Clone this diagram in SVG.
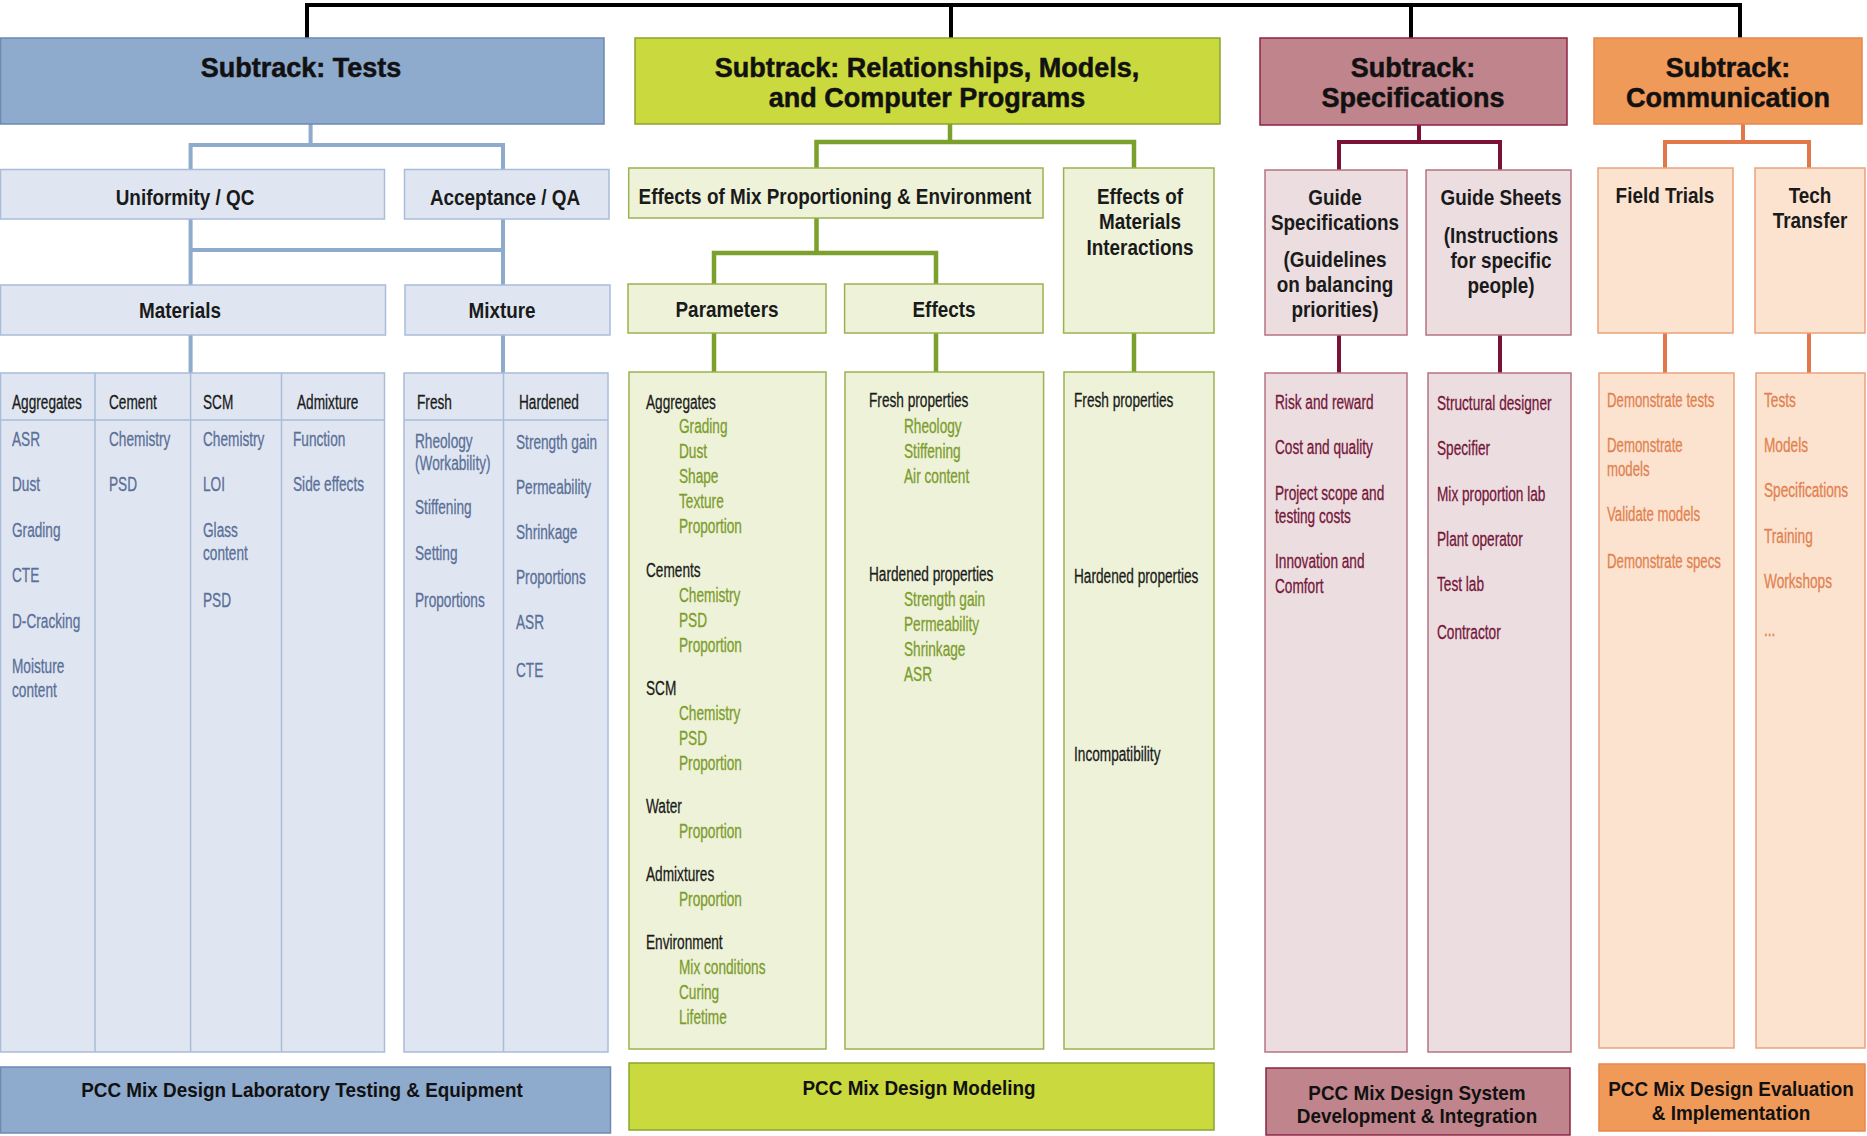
<svg xmlns="http://www.w3.org/2000/svg" width="1867" height="1136" viewBox="0 0 1867 1136">
<style>
text{font-family:"Liberation Sans",Arial,sans-serif}
.hd{font-weight:bold;font-size:27px;fill:#111;text-anchor:middle;stroke:#111;stroke-width:.5}
.lb{font-weight:bold;font-size:22px;fill:#1a1a1a;text-anchor:middle}
.bt{font-weight:bold;font-size:21px;fill:#111;text-anchor:middle}
.it{font-size:21px;stroke-width:.3}
.k{fill:#1a1a1a;stroke:#1a1a1a}.b{fill:#5b6f98;stroke:#5b6f98}.g{fill:#7d9c2d;stroke:#7d9c2d}.m{fill:#74163a;stroke:#74163a}.o{fill:#e2814f;stroke:#e2814f}
.bH{fill:#8eaacd;stroke:#6d89b3;stroke-width:1.5}
.bL{fill:#dfe6f1;stroke:#a9bcd9;stroke-width:1.5}
.gH{fill:#cad93e;stroke:#88a62e;stroke-width:1.5}
.gL{fill:#edf2d8;stroke:#9bb34f;stroke-width:1.5}
.mH{fill:#c0848c;stroke:#8d2343;stroke-width:1.5}
.mL{fill:#ecdde0;stroke:#b57482;stroke-width:1.5}
.oH{fill:#f09a5a;stroke:#e8874d;stroke-width:1.5}
.oL{fill:#fbe3d0;stroke:#eaa27d;stroke-width:1.5}
.cb{fill:none;stroke:#8eaacd;stroke-width:4}
.cg{fill:none;stroke:#7ba02b;stroke-width:4.5}
.cm{fill:none;stroke:#7b1236;stroke-width:4}
.co{fill:none;stroke:#e0784a;stroke-width:4}
.ck{fill:none;stroke:#000;stroke-width:4}
.dv{stroke:#a9bcd9;stroke-width:1.5}
</style>
<rect width="1867" height="1136" fill="#fff"/>

<g id="connectors">
<path class="ck" d="M307 38 V5 H1740 V38 M951 5 V38 M1411 5 V38"/>
<path class="cb" d="M310.6 124 V145 M190.6 169 V145 H503 V169 M190.6 219 V285 M503 219 V285 M190.6 250 H503 M190.6 335 V373 M503 335 V373"/>
<path class="cg" d="M950 124 V142 M816.5 168 V142 H1134 V168 M816.5 218 V253 M714 284 V253 H936 V284 M714 333 V372 M936 333 V372 M1134 333 V372"/>
<path class="cm" d="M1419 125 V142 M1339 170 V142 H1500 V170 M1339 335 V373 M1500 335 V373"/>
<path class="co" d="M1743 124 V142 M1665 168 V142 H1809 V168 M1665 333 V373 M1809 333 V373"/>
</g>

<!-- Tests subtrack -->
<g id="hdr-tests"><rect class="bH" x="0.5" y="38" width="603.5" height="86"/>
<text class="hd" x="301" y="77">Subtrack: Tests</text></g>
<g id="uniformity"><rect class="bL" x="0.5" y="169.5" width="384" height="49.5"/>
<text class="lb" transform="translate(185,205) scale(.86,1)">Uniformity / QC</text></g>
<g id="acceptance"><rect class="bL" x="404.5" y="169.5" width="204.5" height="49.5"/>
<text class="lb" transform="translate(505,205) scale(.86,1)">Acceptance / QA</text></g>
<g id="materials"><rect class="bL" x="0.5" y="285" width="385" height="50"/>
<text class="lb" transform="translate(180,318) scale(.86,1)">Materials</text></g>
<g id="mixture"><rect class="bL" x="405" y="285" width="205" height="50"/>
<text class="lb" transform="translate(502,318) scale(.86,1)">Mixture</text></g>
<g id="materials-table"><rect class="bL" x="0.5" y="373" width="384" height="679"/>
<path class="dv" d="M95 373 V1052 M190.6 373 V1052 M281.5 373 V1052 M0 420 H384"/>
<text class="it k" transform="translate(12,409) scale(.65,1)">Aggregates</text>
<text class="it k" transform="translate(109,409) scale(.65,1)">Cement</text>
<text class="it k" transform="translate(203,409) scale(.65,1)">SCM</text>
<text class="it k" transform="translate(297,409) scale(.65,1)">Admixture</text>
<text class="it b" transform="translate(12,446) scale(.65,1)">ASR</text>
<text class="it b" transform="translate(12,491) scale(.65,1)">Dust</text>
<text class="it b" transform="translate(12,537) scale(.65,1)">Grading</text>
<text class="it b" transform="translate(12,582) scale(.65,1)">CTE</text>
<text class="it b" transform="translate(12,628) scale(.65,1)">D-Cracking</text>
<text class="it b" transform="translate(12,673) scale(.65,1)">Moisture</text>
<text class="it b" transform="translate(12,697) scale(.65,1)">content</text>
<text class="it b" transform="translate(109,446) scale(.65,1)">Chemistry</text>
<text class="it b" transform="translate(109,491) scale(.65,1)">PSD</text>
<text class="it b" transform="translate(203,446) scale(.65,1)">Chemistry</text>
<text class="it b" transform="translate(203,491) scale(.65,1)">LOI</text>
<text class="it b" transform="translate(203,537) scale(.65,1)">Glass</text>
<text class="it b" transform="translate(203,560) scale(.65,1)">content</text>
<text class="it b" transform="translate(203,607) scale(.65,1)">PSD</text>
<text class="it b" transform="translate(293,446) scale(.65,1)">Function</text>
<text class="it b" transform="translate(293,491) scale(.65,1)">Side effects</text>
</g>
<g id="mixture-table"><rect class="bL" x="404" y="373" width="204" height="679"/>
<path class="dv" d="M503.5 373 V1052 M404 420 H608"/>
<text class="it k" transform="translate(417,409) scale(.65,1)">Fresh</text>
<text class="it k" transform="translate(519,409) scale(.65,1)">Hardened</text>
<text class="it b" transform="translate(415,448) scale(.65,1)">Rheology</text>
<text class="it b" transform="translate(415,470) scale(.65,1)">(Workability)</text>
<text class="it b" transform="translate(415,514) scale(.65,1)">Stiffening</text>
<text class="it b" transform="translate(415,560) scale(.65,1)">Setting</text>
<text class="it b" transform="translate(415,607) scale(.65,1)">Proportions</text>
<text class="it b" transform="translate(516,449) scale(.65,1)">Strength gain</text>
<text class="it b" transform="translate(516,494) scale(.65,1)">Permeability</text>
<text class="it b" transform="translate(516,539) scale(.65,1)">Shrinkage</text>
<text class="it b" transform="translate(516,584) scale(.65,1)">Proportions</text>
<text class="it b" transform="translate(516,629) scale(.65,1)">ASR</text>
<text class="it b" transform="translate(516,677) scale(.65,1)">CTE</text>
</g>
<g id="bottom-tests"><rect class="bH" x="0.5" y="1067" width="610" height="66"/>
<text class="bt" transform="translate(302,1097) scale(.9,1)">PCC Mix Design Laboratory Testing &amp; Equipment</text></g>

<!-- Models subtrack -->
<g id="hdr-models"><rect class="gH" x="635" y="38" width="585" height="86"/>
<text class="hd" x="927" y="77">Subtrack: Relationships, Models,</text>
<text class="hd" x="927" y="107">and Computer Programs</text></g>
<g id="effects-mix"><rect class="gL" x="628.7" y="168" width="414.3" height="50"/>
<text class="lb" transform="translate(835,204) scale(.86,1)">Effects of Mix Proportioning &amp; Environment</text></g>
<g id="effects-materials"><rect class="gL" x="1063.6" y="168" width="150.4" height="165"/>
<text class="lb" transform="translate(1140,204) scale(.86,1)">Effects of</text>
<text class="lb" transform="translate(1140,229) scale(.86,1)">Materials</text>
<text class="lb" transform="translate(1140,255) scale(.86,1)">Interactions</text></g>
<g id="parameters"><rect class="gL" x="628" y="284" width="198" height="49"/>
<text class="lb" transform="translate(727,317) scale(.86,1)">Parameters</text></g>
<g id="effects"><rect class="gL" x="844.6" y="284" width="198.4" height="49"/>
<text class="lb" transform="translate(944,317) scale(.86,1)">Effects</text></g>
<g id="parameters-list"><rect class="gL" x="629" y="372" width="197" height="677"/>
<text class="it k" transform="translate(646,409) scale(.65,1)">Aggregates</text>
<text class="it g" transform="translate(679,433) scale(.65,1)">Grading</text>
<text class="it g" transform="translate(679,458) scale(.65,1)">Dust</text>
<text class="it g" transform="translate(679,483) scale(.65,1)">Shape</text>
<text class="it g" transform="translate(679,508) scale(.65,1)">Texture</text>
<text class="it g" transform="translate(679,533) scale(.65,1)">Proportion</text>
<text class="it k" transform="translate(646,577) scale(.65,1)">Cements</text>
<text class="it g" transform="translate(679,602) scale(.65,1)">Chemistry</text>
<text class="it g" transform="translate(679,627) scale(.65,1)">PSD</text>
<text class="it g" transform="translate(679,652) scale(.65,1)">Proportion</text>
<text class="it k" transform="translate(646,695) scale(.65,1)">SCM</text>
<text class="it g" transform="translate(679,720) scale(.65,1)">Chemistry</text>
<text class="it g" transform="translate(679,745) scale(.65,1)">PSD</text>
<text class="it g" transform="translate(679,770) scale(.65,1)">Proportion</text>
<text class="it k" transform="translate(646,813) scale(.65,1)">Water</text>
<text class="it g" transform="translate(679,838) scale(.65,1)">Proportion</text>
<text class="it k" transform="translate(646,881) scale(.65,1)">Admixtures</text>
<text class="it g" transform="translate(679,906) scale(.65,1)">Proportion</text>
<text class="it k" transform="translate(646,949) scale(.65,1)">Environment</text>
<text class="it g" transform="translate(679,974) scale(.65,1)">Mix conditions</text>
<text class="it g" transform="translate(679,999) scale(.65,1)">Curing</text>
<text class="it g" transform="translate(679,1024) scale(.65,1)">Lifetime</text>
</g>
<g id="effects-list"><rect class="gL" x="845" y="372" width="198.6" height="677"/>
<text class="it k" transform="translate(869,407) scale(.65,1)">Fresh properties</text>
<text class="it g" transform="translate(904,433) scale(.65,1)">Rheology</text>
<text class="it g" transform="translate(904,458) scale(.65,1)">Stiffening</text>
<text class="it g" transform="translate(904,483) scale(.65,1)">Air content</text>
<text class="it k" transform="translate(869,581) scale(.65,1)">Hardened properties</text>
<text class="it g" transform="translate(904,606) scale(.65,1)">Strength gain</text>
<text class="it g" transform="translate(904,631) scale(.65,1)">Permeability</text>
<text class="it g" transform="translate(904,656) scale(.65,1)">Shrinkage</text>
<text class="it g" transform="translate(904,681) scale(.65,1)">ASR</text>
</g>
<g id="interactions-list"><rect class="gL" x="1064" y="372" width="150" height="677"/>
<text class="it k" transform="translate(1074,407) scale(.65,1)">Fresh properties</text>
<text class="it k" transform="translate(1074,583) scale(.65,1)">Hardened properties</text>
<text class="it k" transform="translate(1074,761) scale(.65,1)">Incompatibility</text>
</g>
<g id="bottom-models"><rect class="gH" x="629" y="1063" width="585" height="67"/>
<text class="bt" transform="translate(919,1095) scale(.9,1)">PCC Mix Design Modeling</text></g>

<!-- Specifications subtrack -->
<g id="hdr-specs"><rect class="mH" x="1260" y="38" width="307" height="87"/>
<text class="hd" x="1413" y="77">Subtrack:</text>
<text class="hd" x="1413" y="107">Specifications</text></g>
<g id="guide-specs"><rect class="mL" x="1265" y="170" width="142" height="165"/>
<text class="lb" transform="translate(1335,205) scale(.86,1)">Guide</text>
<text class="lb" transform="translate(1335,230) scale(.86,1)">Specifications</text>
<text class="lb" transform="translate(1335,267) scale(.86,1)">(Guidelines</text>
<text class="lb" transform="translate(1335,292) scale(.86,1)">on balancing</text>
<text class="lb" transform="translate(1335,317) scale(.86,1)">priorities)</text></g>
<g id="guide-sheets"><rect class="mL" x="1426" y="170" width="145" height="165"/>
<text class="lb" transform="translate(1501,205) scale(.86,1)">Guide Sheets</text>
<text class="lb" transform="translate(1501,243) scale(.86,1)">(Instructions</text>
<text class="lb" transform="translate(1501,268) scale(.86,1)">for specific</text>
<text class="lb" transform="translate(1501,293) scale(.86,1)">people)</text></g>
<g id="specs-list"><rect class="mL" x="1265" y="373" width="142" height="679"/>
<text class="it m" transform="translate(1275,409) scale(.65,1)">Risk and reward</text>
<text class="it m" transform="translate(1275,454) scale(.65,1)">Cost and quality</text>
<text class="it m" transform="translate(1275,500) scale(.65,1)">Project scope and</text>
<text class="it m" transform="translate(1275,523) scale(.65,1)">testing costs</text>
<text class="it m" transform="translate(1275,568) scale(.65,1)">Innovation and</text>
<text class="it m" transform="translate(1275,593) scale(.65,1)">Comfort</text>
</g>
<g id="sheets-list"><rect class="mL" x="1428" y="373" width="143" height="679"/>
<text class="it m" transform="translate(1437,410) scale(.65,1)">Structural designer</text>
<text class="it m" transform="translate(1437,455) scale(.65,1)">Specifier</text>
<text class="it m" transform="translate(1437,501) scale(.65,1)">Mix proportion lab</text>
<text class="it m" transform="translate(1437,546) scale(.65,1)">Plant operator</text>
<text class="it m" transform="translate(1437,591) scale(.65,1)">Test lab</text>
<text class="it m" transform="translate(1437,639) scale(.65,1)">Contractor</text>
</g>
<g id="bottom-specs"><rect class="mH" x="1266" y="1068" width="304" height="67"/>
<text class="bt" transform="translate(1417,1100) scale(.9,1)">PCC Mix Design System</text>
<text class="bt" transform="translate(1417,1123) scale(.9,1)">Development &amp; Integration</text></g>

<!-- Communication subtrack -->
<g id="hdr-comm"><rect class="oH" x="1594" y="38" width="268" height="86"/>
<text class="hd" x="1728" y="77">Subtrack:</text>
<text class="hd" x="1728" y="107">Communication</text></g>
<g id="field-trials"><rect class="oL" x="1598" y="168" width="135" height="165"/>
<text class="lb" transform="translate(1665,203) scale(.86,1)">Field Trials</text></g>
<g id="tech-transfer"><rect class="oL" x="1755" y="168" width="110" height="165"/>
<text class="lb" transform="translate(1810,203) scale(.86,1)">Tech</text>
<text class="lb" transform="translate(1810,228) scale(.86,1)">Transfer</text></g>
<g id="field-list"><rect class="oL" x="1599" y="373" width="135" height="675"/>
<text class="it o" transform="translate(1607,407) scale(.63,1)">Demonstrate tests</text>
<text class="it o" transform="translate(1607,452) scale(.63,1)">Demonstrate</text>
<text class="it o" transform="translate(1607,476) scale(.63,1)">models</text>
<text class="it o" transform="translate(1607,521) scale(.63,1)">Validate models</text>
<text class="it o" transform="translate(1607,568) scale(.63,1)">Demonstrate specs</text>
</g>
<g id="tech-list"><rect class="oL" x="1756" y="373" width="109" height="675"/>
<text class="it o" transform="translate(1764,407) scale(.65,1)">Tests</text>
<text class="it o" transform="translate(1764,452) scale(.65,1)">Models</text>
<text class="it o" transform="translate(1764,497) scale(.65,1)">Specifications</text>
<text class="it o" transform="translate(1764,543) scale(.65,1)">Training</text>
<text class="it o" transform="translate(1764,588) scale(.65,1)">Workshops</text>
<text class="it o" transform="translate(1764,636) scale(.65,1)">...</text>
</g>
<g id="bottom-comm"><rect class="oH" x="1599" y="1064" width="266" height="67"/>
<text class="bt" transform="translate(1731,1096) scale(.9,1)">PCC Mix Design Evaluation</text>
<text class="bt" transform="translate(1731,1120) scale(.9,1)">&amp; Implementation</text></g>
</svg>
